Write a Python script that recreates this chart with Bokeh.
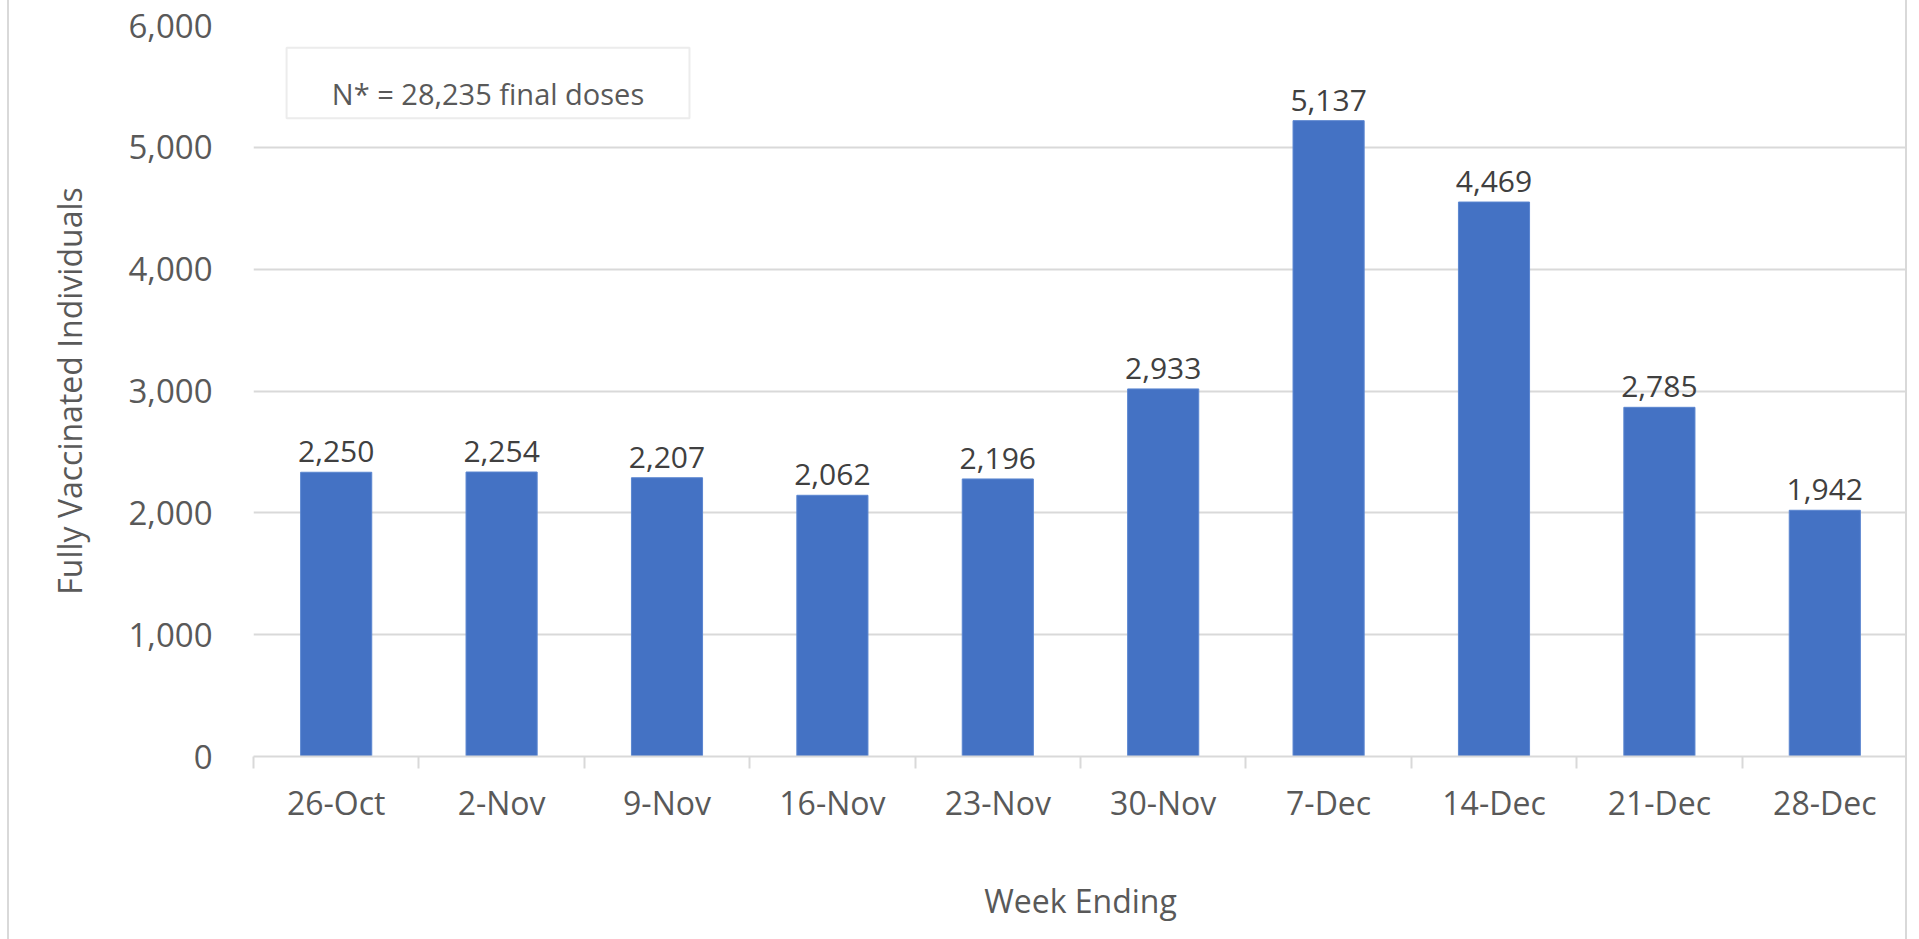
from bokeh.plotting import figure
from bokeh.models import (Range1d, FixedTicker, NumeralTickFormatter, ColumnDataSource,
                          LabelSet, BoxAnnotation, Label)
from bokeh.core.properties import value
from bokeh.embed import file_html
from bokeh.resources import INLINE

# ---- data ----
weeks = ["26-Oct", "2-Nov", "9-Nov", "16-Nov", "23-Nov", "30-Nov", "7-Dec", "14-Dec", "21-Dec", "28-Dec"]
final_doses = [2250, 2254, 2207, 2062, 2196, 2933, 5137, 4469, 2785, 1942]
bar_heights = [2333, 2335, 2288, 2144, 2278, 3017, 5219, 4551, 2866, 2021]
y_ticks = [0, 1000, 2000, 3000, 4000, 5000, 6000]
note_text = "N* = 28,235 final doses"
x_title = "Week Ending"
y_title = "Fully Vaccinated Individuals"

FONT = "Open Sans"
GRID = "#d9d9d9"
TXT = "#595959"
BAR = "#4472C4"

n = len(weeks)
slot_centers = [i + 0.5 for i in range(n)]
slot_edges = list(range(n + 1))

src = ColumnDataSource(dict(
    x=slot_centers,
    week=weeks,
    height=bar_heights,
    label=["{:,}".format(v) for v in final_doses],
))

p = figure(width=1900, height=939,
           x_range=Range1d(0, n), y_range=Range1d(y_ticks[0], y_ticks[-1]),
           output_backend="svg", toolbar_location=None,
           min_border_left=244, min_border_right=2, min_border_top=25, min_border_bottom=183)
p.styles = {"margin-left": "7px", "border-left": "2px solid #d9d9d9",
            "border-right": "2px solid #d9d9d9"}
p.outline_line_color = None
p.background_fill_color = "white"
p.border_fill_color = "white"

# grid
p.xgrid.visible = False
p.ygrid.grid_line_color = GRID
p.ygrid.grid_line_width = 2
p.ygrid.ticker = FixedTicker(ticks=y_ticks)

# y axis
ya = p.yaxis[0]
ya.ticker = FixedTicker(ticks=y_ticks)
ya.formatter = NumeralTickFormatter(format="0,0")
ya.axis_line_color = None
ya.major_tick_line_color = None
ya.minor_tick_line_color = None
ya.major_label_text_font = FONT
ya.major_label_text_font_size = "33px"
ya.major_label_text_color = TXT
ya.major_label_standoff = 35
ya.axis_label = y_title
ya.axis_label_text_font = FONT
ya.axis_label_text_font_size = "32px"
ya.axis_label_text_font_style = "normal"
ya.axis_label_text_color = TXT
ya.axis_label_standoff = 34

# x axis: labels at slot centres, tick marks at slot edges
xa = p.xaxis[0]
xa.ticker = FixedTicker(ticks=slot_centers, minor_ticks=slot_edges)
xa.major_label_overrides = {c: w for c, w in zip(slot_centers, weeks)}
xa.major_tick_out = 0
xa.major_tick_in = 0
xa.major_tick_line_color = None
xa.minor_tick_out = 12
xa.minor_tick_in = 0
xa.minor_tick_line_color = GRID
xa.minor_tick_line_width = 2
xa.axis_line_color = GRID
xa.axis_line_width = 2
xa.major_label_text_font = FONT
xa.major_label_text_font_size = "32px"
xa.major_label_text_color = TXT
xa.major_label_standoff = 12
xa.axis_label = x_title
xa.axis_label_text_font = FONT
xa.axis_label_text_font_size = "32px"
xa.axis_label_text_font_style = "normal"
xa.axis_label_text_color = TXT
xa.axis_label_standoff = 52

# bars
p.vbar(x="x", top="height", width=0.43, bottom=0, source=src,
       fill_color=BAR, line_color="#5B86D0", line_width=1)

# data labels
labels = LabelSet(x="x", y="height", text="label", source=src,
                  y_offset=10, text_align="center", text_baseline="alphabetic",
                  text_font=value(FONT), text_font_size=value("30px"), text_color="#404040")
p.add_layout(labels)

# annotation box
box = BoxAnnotation(left=0.2, right=2.636, top=5817, bottom=5239,
                    fill_color="white", fill_alpha=1.0, line_color="#bfbfbf", line_width=2)
p.add_layout(box)
note = Label(x=1.418, y=5444, text=note_text,
             text_align="center", text_baseline="alphabetic",
             text_font=FONT, text_font_size="29px", text_color=TXT)
p.add_layout(note)

open("out.html", "w").write(file_html(p, INLINE))
